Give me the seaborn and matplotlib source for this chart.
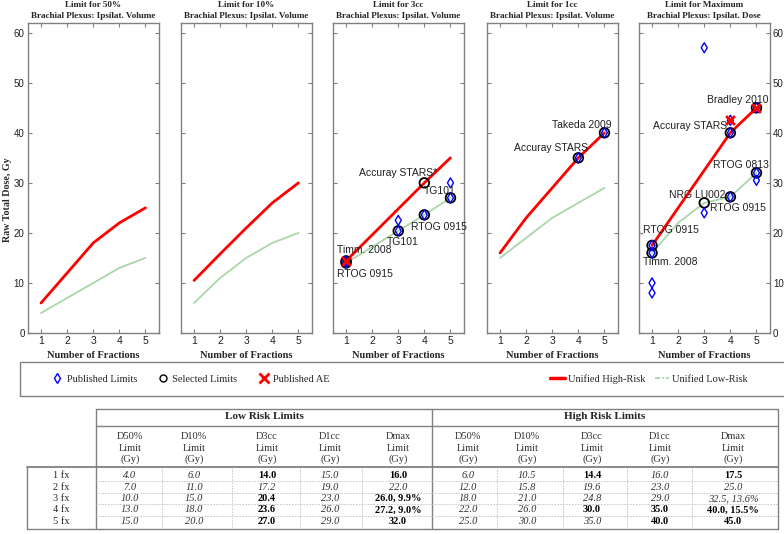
import matplotlib
matplotlib.use("Agg")
import matplotlib.pyplot as plt
import seaborn as sns
import pandas as pd
from matplotlib.lines import Line2D
from matplotlib.patches import Rectangle

# ---------------- data ----------------
fractions = [1, 2, 3, 4, 5]
panel_titles = ["Limit for 50%", "Limit for 10%", "Limit for 3cc", "Limit for 1cc", "Limit for Maximum"]
panel_subtitles = ["Brachial Plexus: Ipsilat. Volume"] * 4 + ["Brachial Plexus: Ipsilat. Dose"]

low_d50 = [4.0, 7.0, 10.0, 13.0, 15.0]
low_d10 = [6.0, 11.0, 15.0, 18.0, 20.0]
low_d3 = [14.0, 17.2, 20.4, 23.6, 27.0]
low_d1 = [15.0, 19.0, 23.0, 26.0, 29.0]
low_max = [16.0, 22.0, 26.0, 27.2, 32.0]

high_d50 = [6.0, 12.0, 18.0, 22.0, 25.0]
high_d10 = [10.5, 15.8, 21.0, 26.0, 30.0]
high_d3 = [14.4, 19.6, 24.8, 30.0, 35.0]
high_d1 = [16.0, 23.0, 29.0, 35.0, 40.0]
high_max = [17.5, 25.0, 32.5, 40.0, 45.0]

# published limits (diamonds), selected limits (circles), published AE (x)
pub_x = [[], [], [1, 1, 3, 3, 4, 5, 5], [4, 5], [1, 1, 1, 1, 3, 3, 4, 4, 4, 5, 5, 5]]
pub_y = [[], [], [14.0, 14.4, 22.5, 20.4, 23.6, 30.0, 27.0], [35.0, 40.0],
         [17.5, 16.0, 10.0, 8.0, 57.0, 24.0, 27.2, 40.0, 42.5, 45.0, 32.0, 30.5]]
sel_x = [[], [], [1, 1, 3, 4, 4, 5], [4, 5], [1, 1, 3, 4, 4, 5, 5]]
sel_y = [[], [], [14.0, 14.4, 20.4, 23.6, 30.0, 27.0], [35.0, 40.0], [17.5, 16.0, 26.0, 27.2, 40.0, 45.0, 32.0]]
ae_x = [[], [], [1], [], [4, 5]]
ae_y = [[], [], [14.4], [], [42.5, 45.0]]

# annotation labels: (text, x, y)
notes = [
    [], [],
    [("Timm. 2008", 1.68, 16.6), ("RTOG 0915", 1.72, 11.7), ("TG101", 3.18, 18.2),
     ("RTOG 0915", 4.55, 21.1), ("TG101", 4.6, 28.4), ("Accuray STARS*", 3.0, 32.0)],
    [("Takeda 2009", 4.14, 41.6), ("Accuray STARS", 2.94, 37.0)],
    [("Bradley 2010", 4.3, 46.6), ("Accuray STARS", 2.44, 41.3), ("RTOG 0813", 4.4, 33.5),
     ("NRG LU002", 2.73, 27.5), ("RTOG 0915", 4.3, 24.9), ("RTOG 0915", 1.73, 20.5),
     ("Timm. 2008", 1.71, 14.1)],
]

low_series = [low_d50, low_d10, low_d3, low_d1, low_max]
high_series = [high_d50, high_d10, high_d3, high_d1, high_max]

# table content
row_labels = ["1 fx", "2 fx", "3 fx", "4 fx", "5 fx"]
col_headers = ["D50%", "D10%", "D3cc", "D1cc", "Dmax"]
low_bold = [[0, 0, 0, 0, 0], [0, 0, 0, 0, 0], [1, 0, 1, 1, 1], [0, 0, 0, 0, 0], [1, 0, 1, 1, 1]]
high_bold = [[0, 0, 0, 0, 0], [0, 0, 0, 0, 0], [1, 0, 0, 1, 0], [0, 0, 0, 1, 1], [1, 0, 0, 1, 1]]
low_pct = {(4, 2): "9.9%", (4, 3): "9.0%"}
high_pct = {(4, 2): "13.6%", (4, 3): "15.5%"}

# ---------------- style ----------------
sns.set_theme(style="white")
plt.rcParams["font.family"] = ["Liberation Sans", "DejaVu Sans"]
SERIF = ["Liberation Serif", "DejaVu Serif"]
GRAY = "#808080"
GREEN = "#aad6aa"

W, H = 784, 534
fig = plt.figure(figsize=(W / 100, H / 100), dpi=100)


def fx(x):
    return x / W


def fy(y):
    return 1 - y / H


lefts = [28, 181, 333, 487, 639]
ax_w, ax_top, ax_bot = 130.5, 22.7, 333

for i in range(5):
    ax = fig.add_axes([fx(lefts[i]), fy(ax_bot), ax_w / W, (ax_bot - ax_top) / H])
    df = pd.DataFrame({"x": fractions, "high": high_series[i], "low": low_series[i]})
    sns.lineplot(data=df, x="x", y="low", ax=ax, color=GREEN, lw=1.3, zorder=2)
    sns.lineplot(data=df, x="x", y="high", ax=ax, color="red", lw=2, zorder=3)
    if sel_x[i]:
        sns.scatterplot(x=sel_x[i], y=sel_y[i], ax=ax, marker="o", s=48,
                        facecolor="none", edgecolor="black", linewidth=1.3, zorder=4)
    if pub_x[i]:
        sns.scatterplot(x=pub_x[i], y=pub_y[i], ax=ax, marker="d", s=26,
                        facecolor="none", edgecolor="blue", linewidth=1.0, zorder=5)
    if ae_x[i]:
        sns.scatterplot(x=ae_x[i], y=ae_y[i], ax=ax, marker="x", s=40,
                        color="red", linewidth=2, zorder=6)
    for (t, tx, ty) in notes[i]:
        ax.text(tx, ty, t, ha="center", va="center", fontsize=7.5, color="#202020", zorder=7)

    ax.set_xlim(0.5, 5.5)
    ax.set_ylim(0, 62)
    ax.set_xticks(fractions)
    ax.set_yticks(range(0, 61, 10))
    ax.tick_params(direction="in", length=3, width=0.8, color=GRAY, top=True, right=True,
                   bottom=True, left=True, labelsize=7.5, pad=2.5, labelcolor="#202020")
    ax.tick_params(axis="y", labelleft=(i == 0), labelright=(i == 4), labelsize=7)
    for sp in ax.spines.values():
        sp.set_color(GRAY)
        sp.set_linewidth(1)
    ax.set_xlabel("Number of Fractions", family=SERIF, fontweight="bold", fontsize=7.5, labelpad=3)
    ax.set_ylabel("")
    cx = fx(lefts[i] + ax_w / 2)
    fig.text(cx, fy(5), panel_titles[i], ha="center", va="center", family=SERIF,
             fontweight="bold", fontsize=6.6)
    fig.text(cx, fy(15.5), panel_subtitles[i], ha="center", va="center", family=SERIF,
             fontweight="bold", fontsize=6.6)

fig.text(fx(8), fy(200), "Raw Total Dose, Gy", rotation=90, ha="center", va="center",
         family=SERIF, fontweight="bold", fontsize=7.2)

# ---------------- legend ----------------
fig.add_artist(Rectangle((fx(20), fy(396)), 780 / W, 34 / H, fill=False, ec=GRAY, lw=1,
                         transform=fig.transFigure))
h_left = [
    Line2D([], [], marker="d", ls="none", mfc="none", mec="blue", ms=5, mew=1),
    Line2D([], [], marker="o", ls="none", mfc="none", mec="black", ms=5, mew=1),
    Line2D([], [], marker="x", ls="none", color="red", ms=7, mew=2),
]
fig.legend(h_left, ["Published Limits", "Selected Limits", "Published AE"], ncol=3, frameon=False,
           loc="center left", bbox_to_anchor=(fx(52), fy(379)), prop={"family": SERIF, "size": 7.5},
           handlelength=1.0, handletextpad=0.4, columnspacing=2.0, borderaxespad=0, borderpad=0)
h_right = [
    Line2D([], [], color="red", lw=2.5),
    Line2D([], [], color=GREEN, lw=1.3, ls=(0, (3, 1, 1, 1))),
]
fig.legend(h_right, ["Unified High-Risk", "Unified Low-Risk"], ncol=2, frameon=False,
           loc="center left", bbox_to_anchor=(fx(550), fy(379)), prop={"family": SERIF, "size": 7.5},
           handlelength=1.4, handletextpad=0.3, columnspacing=0.9, borderaxespad=0, borderpad=0)

# ---------------- table ----------------
t_top, t_sec, t_hdr, t_bot = 409, 425.7, 467, 528.5
t_left, t_mid, t_right, lab_left = 96, 432, 778, 27
low_cx = [130, 194, 267, 330, 398]
high_cx = [468, 527, 592, 660, 733]
low_div = [162, 232, 300, 362]
high_div = [497, 563, 627, 692]
row_y = [475.5, 487, 498.5, 510, 521.5]
row_div = [481.25, 492.75, 504.25, 515.75]


def hline(y, x0, x1, **kw):
    fig.add_artist(Line2D([fx(x0), fx(x1)], [fy(y), fy(y)], transform=fig.transFigure, **kw))


def vline(x, y0, y1, **kw):
    fig.add_artist(Line2D([fx(x), fx(x)], [fy(y0), fy(y1)], transform=fig.transFigure, **kw))


solid = dict(color=GRAY, lw=1)
dotted = dict(color="#c0c0c0", lw=0.6, ls=(0, (2, 1.5)))
hline(t_top, t_left, t_right, **solid)
hline(t_sec, t_left, t_right, **solid)
hline(t_hdr, lab_left, t_right, color=GRAY, lw=1.3)
hline(t_bot, lab_left, t_right, **solid)
vline(t_left, t_top, t_bot, **solid)
vline(t_mid, t_top, t_bot, **solid)
vline(t_right, t_top, t_bot, **solid)
vline(lab_left, t_hdr, t_bot, **solid)
for y in row_div:
    hline(y, t_left, t_right, **dotted)
for x in low_div + high_div:
    vline(x, t_hdr, t_bot, **dotted)

fig.text(fx((t_left + t_mid) / 2), fy(416.5), "Low Risk Limits", ha="center", va="center",
         family=SERIF, fontweight="bold", fontsize=8)
fig.text(fx((t_mid + t_right) / 2), fy(416.5), "High Risk Limits", ha="center", va="center",
         family=SERIF, fontweight="bold", fontsize=8)
for cxs in (low_cx, high_cx):
    for j, c in enumerate(cxs):
        for k, (s, yy) in enumerate(zip([col_headers[j], "Limit", "(Gy)"], [436.7, 448.3, 459.5])):
            fig.text(fx(c), fy(yy), s, ha="center", va="center", family=SERIF, fontsize=7.5,
                     color="#303030")

for r, lab in enumerate(row_labels):
    fig.text(fx(61), fy(row_y[r]), lab, ha="center", va="center", family=SERIF, fontsize=7.5)

for series, bold, pct, cxs in ((low_series, low_bold, low_pct, low_cx),
                               (high_series, high_bold, high_pct, high_cx)):
    for j in range(5):
        for r in range(5):
            s = f"{series[j][r]:.1f}"
            if (j, r) in pct:
                s += ", " + pct[(j, r)]
            b = bold[j][r]
            fig.text(fx(cxs[j]), fy(row_y[r]), s, ha="center", va="center", family=SERIF,
                     fontsize=7.5, fontweight="bold" if b else "normal",
                     style="normal" if b else "italic", color="black" if b else "#303030")

fig.savefig("out.png", dpi=100)
